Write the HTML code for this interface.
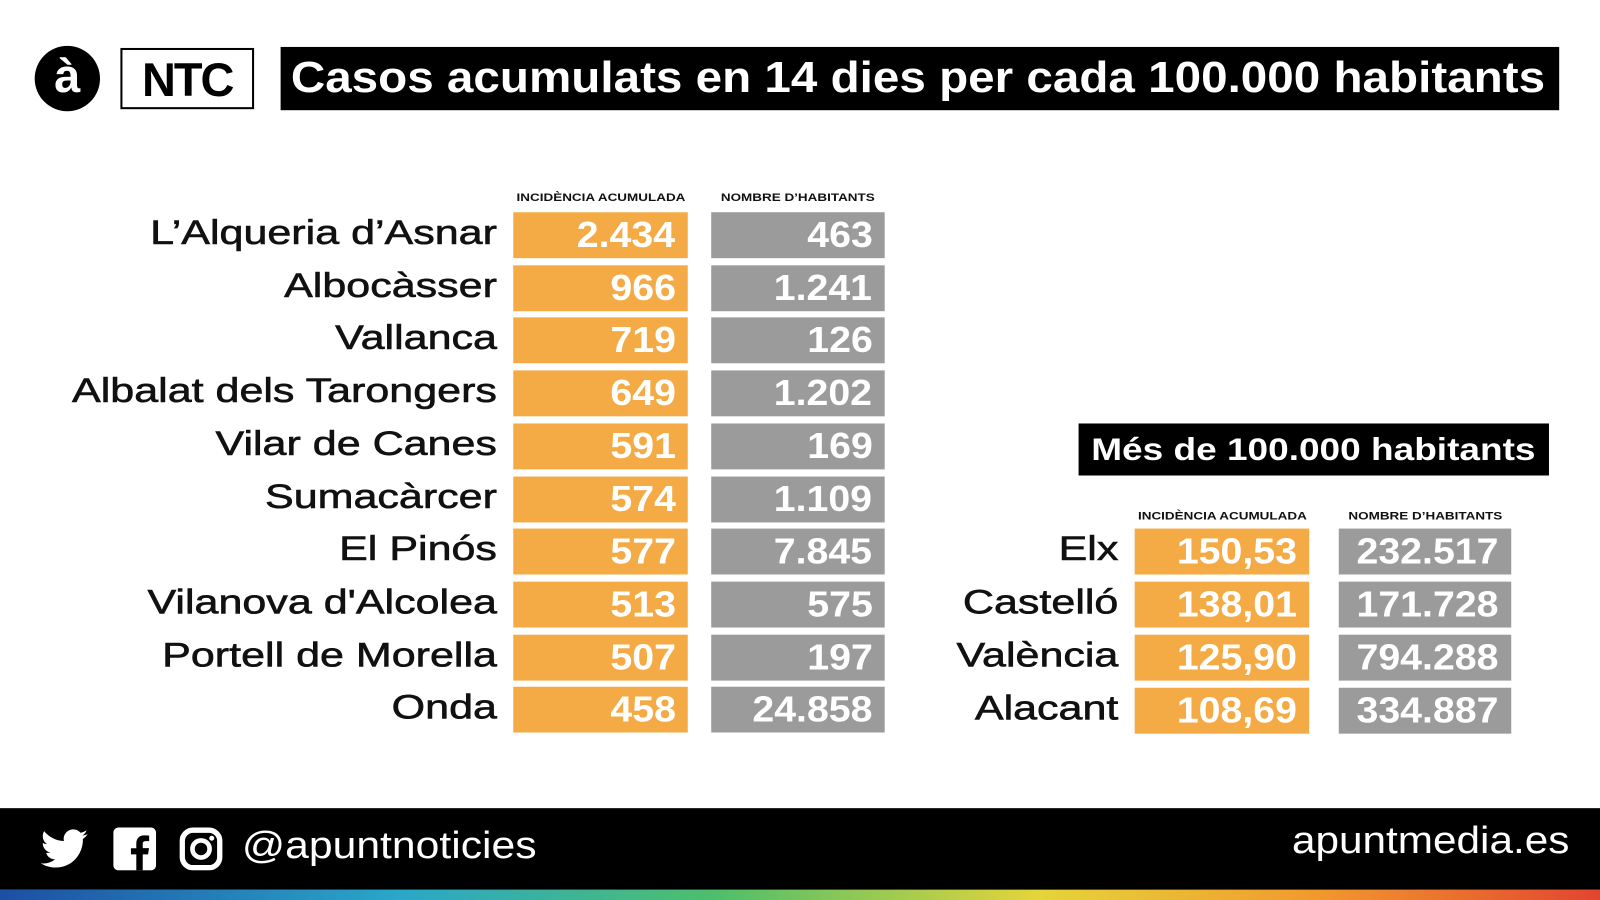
<!DOCTYPE html>
<html><head><meta charset="utf-8">
<style>
html,body{margin:0;padding:0;background:#fff;width:1600px;height:900px;overflow:hidden}
#wrap{position:absolute;left:0;top:0;width:1568px;height:882px;transform:scale(1.020408);transform-origin:0 0;font-family:"Liberation Sans",sans-serif}
.abs{position:absolute}
.lbl{position:absolute;text-align:right;font-size:34px;color:#111;white-space:nowrap;transform:scaleX(1.24);transform-origin:100% 50%;-webkit-text-stroke:0.6px #111}
.cell{position:absolute;height:45px;color:#fff;font-size:35px;font-weight:bold;text-align:right;line-height:45px;box-sizing:border-box}
.cell span{display:inline-block;transform:scaleX(1.1);transform-origin:100% 50%}
.hdr{position:absolute;font-size:11px;font-weight:bold;color:#111;text-align:center;white-space:nowrap}
.hdr span{display:inline-block;transform:scaleX(1.2)}
</style></head><body>
<div id="wrap">
  <div class="abs" style="left:34px;top:45px;width:64px;height:64px;border-radius:50%;background:#000;color:#fff;font-size:46px;font-weight:bold;text-align:center;line-height:58px">à</div>
  <div class="abs" style="left:118px;top:47px;width:127px;height:56px;border:2px solid #000;font-size:46px;font-weight:bold;text-align:center;line-height:58px;letter-spacing:-2px">NTC</div>
  <div class="abs" style="left:275px;top:46px;width:1253px;height:62px;background:#000;color:#fff;font-size:43px;font-weight:bold;line-height:60px;white-space:nowrap;overflow:hidden"><span style="display:inline-block;margin-left:10px;transform:scaleX(1.085);transform-origin:0 50%">Casos acumulats en 14 dies per cada 100.000 habitants</span></div>

  <div class="hdr" style="left:503px;top:188px;width:171px"><span>INCIDÈNCIA ACUMULADA</span></div>
  <div class="hdr" style="left:697px;top:188px;width:170px"><span>NOMBRE D’HABITANTS</span></div>

  <div class="abs" style="left:1057px;top:415px;width:461px;height:51px;background:#000;color:#fff;font-size:31px;font-weight:bold;line-height:51px;text-align:center"><span style="display:inline-block;transform:scaleX(1.17)">Més de 100.000 habitants</span></div>
  <div class="hdr" style="left:1112px;top:500px;width:171px"><span>INCIDÈNCIA ACUMULADA</span></div>
  <div class="hdr" style="left:1312px;top:500px;width:169px"><span>NOMBRE D’HABITANTS</span></div>

  <div class="abs" style="left:0;top:792px;width:1568px;height:80px;background:#000"></div>
  <div class="abs" style="left:0;top:872px;width:1568px;height:10px;background:linear-gradient(90deg,#1d4fa3,#2aa7c9 25%,#4fbf6a 45%,#e5d43a 65%,#f29a2e 82%,#e2452f)"></div>
  <svg class="abs" style="left:40px;top:812px" width="46" height="40" viewBox="0 0 24 20"><path fill="#fff" d="M24 2.4c-.9.4-1.8.6-2.8.8 1-.6 1.800-1.6 2.2-2.7-1 .6-2 1-3.1 1.2C19.4.7 18.1 0 16.6 0c-2.7 0-4.9 2.2-4.9 4.9 0 .4 0 .8.1 1.1C7.7 5.8 4.1 3.9 1.7.9c-.4.7-.7 1.6-.7 2.500 0 1.7.9 3.2 2.2 4.1-.8 0-1.6-.2-2.2-.6v.1c0 2.4 1.7 4.4 3.9 4.8-.4.1-.8.2-1.3.2-.3 0-.6 0-.9-.1.6 2 2.4 3.4 4.6 3.4-1.7 1.3-3.8 2.1-6.1 2.1-.4 0-.8 0-1.200-.1 2.2 1.4 4.8 2.2 7.5 2.2 9.1 0 14-7.5 14-14v-.6c1-.7 1.8-1.6 2.5-2.5z"/></svg>
  <svg class="abs" style="left:111px;top:811px" width="42" height="42" viewBox="0 0 24 24"><rect width="24" height="24" rx="3" fill="#fff"/><path fill="#000" d="M16.5 24v-9h3l.5-3.5h-3.5V9.3c0-1 .3-1.7 1.8-1.7h1.8V4.5c-.3 0-1.4-.1-2.7-.1-2.7 0-4.5 1.6-4.5 4.6v2.6h-3V15h3v9z"/></svg>
  <svg class="abs" style="left:176px;top:811px" width="42" height="42" viewBox="0 0 24 24"><rect x="1.5" y="1.5" width="21" height="21" rx="6" fill="none" stroke="#fff" stroke-width="3"/><circle cx="12" cy="12" r="4.8" fill="none" stroke="#fff" stroke-width="2.6"/><circle cx="18" cy="6" r="1.4" fill="#fff"/></svg>
  <div class="abs" style="left:237px;top:808px;color:#fff;font-size:37px;white-space:nowrap;transform:scaleX(1.13);transform-origin:0 50%">@apuntnoticies</div>
  <div class="abs" style="left:1138px;width:400px;text-align:right;top:803px;color:#fff;font-size:37px;white-space:nowrap;transform:scaleX(1.12);transform-origin:100% 50%">apuntmedia.es</div>
</div>
<script>
const towns=["L’Alqueria d’Asnar","Albocàsser","Vallanca","Albalat dels Tarongers","Vilar de Canes","Sumacàrcer","El Pinós","Vilanova d'Alcolea","Portell de Morella","Onda"];
const townIncidence=["2.434","966","719","649","591","574","577","513","507","458"];
const townPopulation=["463","1.241","126","1.202","169","1.109","7.845","575","197","24.858"];
const cities=["Elx","Castelló","València","Alacant"];
const cityIncidence=["150,53","138,01","125,90","108,69"];
const cityPopulation=["232.517","171.728","794.288","334.887"];
const wrap=document.getElementById('wrap');
function add(cls,text,style,wrapSpan){const d=document.createElement('div');d.className=cls;if(wrapSpan){const s=document.createElement('span');s.textContent=text;d.appendChild(s);}else d.textContent=text;d.style.cssText=style;wrap.appendChild(d);return d;}
towns.forEach((t,i)=>{
  const y=208+i*51.7;
  const l=add('lbl',t,`left:0;width:487px;top:${y+1}px`,false);
  
  
  const a=add('cell',townIncidence[i],`left:503px;width:171px;top:${y}px;background:#f5ab45;padding-right:12px`,true);
  
  
  const b=add('cell',townPopulation[i],`left:697px;width:170px;top:${y}px;background:#9b9b9b;padding-right:12px`,true);
  
  
});
cities.forEach((t,i)=>{
  const y=518+i*52;
  const l=add('lbl',t,`left:700px;width:396px;top:${y+1}px`,false);
  
  
  const a=add('cell',cityIncidence[i],`left:1112px;width:171px;top:${y}px;background:#f5ab45;padding-right:12px`,true);
  
  
  const b=add('cell',cityPopulation[i],`left:1312px;width:169px;top:${y}px;background:#9b9b9b;padding-right:12px`,true);
  
  
});
</script>
</body></html>
